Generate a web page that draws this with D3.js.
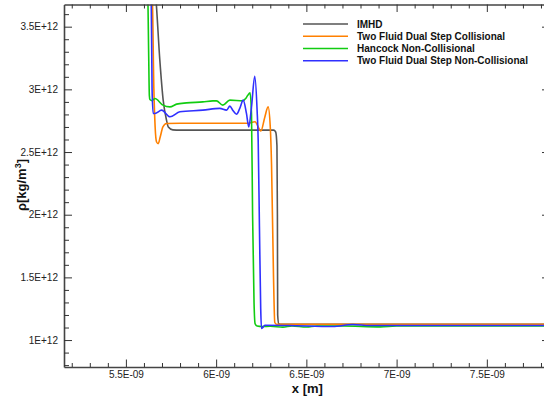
<!DOCTYPE html>
<html>
<head>
<meta charset="utf-8">
<script src="https://cdn.jsdelivr.net/npm/d3@7"></script>
<style>
html,body{margin:0;padding:0;background:#fff;}
svg{display:block;font-family:"Liberation Sans",Arial,sans-serif;}
</style>
</head>
<body>
<svg id="chart" width="544" height="402"></svg>
<script>
// x in units of 1E-09 m, y in units of 1E+12 kg/m^3
const imhdX = [5.60, 5.665, 5.688, 5.7065, 5.725, 5.735, 5.76, 5.80, 6.00, 6.20, 6.318, 6.330, 6.337, 6.3395, 6.341, 6.347, 6.36, 6.60, 7.00, 7.85];
const imhdY = [4.30, 3.75, 3.233, 2.914, 2.754, 2.70, 2.677, 2.675, 2.675, 2.675, 2.675, 2.66, 2.55, 2.0, 1.20, 1.13, 1.125, 1.125, 1.125, 1.125];

const orangeX = [5.60, 5.646, 5.655, 5.662, 5.670, 5.679, 5.690, 5.705, 5.725, 5.80, 6.00, 6.177, 6.215, 6.248, 6.270, 6.288, 6.300, 6.307, 6.318, 6.325, 6.335, 6.60, 7.00, 7.85];
const orangeY = [4.30, 3.75, 3.00, 2.70, 2.58, 2.567, 2.62, 2.70, 2.728, 2.73, 2.73, 2.73, 2.742, 2.668, 2.78, 2.860, 2.70, 2.40, 1.50, 1.14, 1.126, 1.126, 1.126, 1.126];

const greenX = [5.55, 5.621, 5.626, 5.630, 5.633, 5.645, 5.661, 5.705, 5.744, 5.781, 5.836, 5.926, 5.982, 6.002, 6.037, 6.076, 6.148, 6.165, 6.176, 6.188, 6.196, 6.202, 6.210, 6.216, 6.227, 6.253, 6.30, 6.37, 6.42, 6.50, 6.56, 6.70, 6.91, 7.00, 7.85];
const greenY = [4.30, 3.75, 3.30, 2.95, 2.919, 2.91, 2.927, 2.874, 2.860, 2.882, 2.892, 2.900, 2.908, 2.908, 2.874, 2.914, 2.908, 2.93, 2.954, 2.972, 2.80, 2.00, 1.30, 1.13, 1.112, 1.108, 1.110, 1.103, 1.112, 1.104, 1.112, 1.112, 1.105, 1.112, 1.112];

const blueX = [5.55, 5.640, 5.645, 5.651, 5.661, 5.698, 5.744, 5.799, 5.926, 6.020, 6.058, 6.076, 6.092, 6.113, 6.131, 6.150, 6.168, 6.181, 6.196, 6.214, 6.227, 6.233, 6.240, 6.247, 6.251, 6.258, 6.270, 6.40, 6.646, 6.757, 6.85, 7.85];
const blueY = [4.30, 3.75, 3.00, 2.808, 2.808, 2.834, 2.781, 2.821, 2.834, 2.848, 2.834, 2.866, 2.834, 2.802, 2.848, 2.914, 2.808, 2.701, 2.860, 3.105, 2.834, 2.595, 1.90, 1.25, 1.093, 1.10, 1.118, 1.116, 1.108, 1.124, 1.116, 1.116];

const seriesNames = ["IMHD", "Two Fluid Dual Step Collisional", "Hancock Non-Collisional", "Two Fluid Dual Step Non-Collisional"];
const seriesColors = ["#555555", "#ff8000", "#11cc11", "#3030ff"];
const xMajorTicks = [5.5, 6.0, 6.5, 7.0, 7.5];
const xTickLabels = ["5.5E-09", "6E-09", "6.5E-09", "7E-09", "7.5E-09"];
const yMajorTicks = [1.0, 1.5, 2.0, 2.5, 3.0, 3.5];
const yTickLabels = ["1E+12", "1.5E+12", "2E+12", "2.5E+12", "3E+12", "3.5E+12"];

const svg = d3.select("#chart");
const L = 64, R = 550, T = 4.5, B = 367;
const x = d3.scaleLinear().domain([5.157, 7.85]).range([L, R]);
const y = d3.scaleLinear().domain([0.785, 3.677]).range([B, T]);

svg.append("defs").append("clipPath").attr("id", "clip")
  .append("rect").attr("x", L).attr("y", T).attr("width", R - L).attr("height", B - T);

const series = [
  {xs: imhdX, ys: imhdY},
  {xs: orangeX, ys: orangeY},
  {xs: greenX, ys: greenY},
  {xs: blueX, ys: blueY}
];
const line = d3.line().x(d => x(d[0])).y(d => y(d[1])).curve(d3.curveMonotoneX);
const g = svg.append("g").attr("clip-path", "url(#clip)");
series.forEach((s, i) => {
  g.append("path")
    .attr("d", line(s.xs.map((v, j) => [v, s.ys[j]])))
    .attr("fill", "none")
    .attr("stroke", seriesColors[i])
    .attr("stroke-width", 1.6)
    .attr("stroke-linejoin", "round");
});

// Axes
const axisColor = "#444";
const xMinor = d3.range(52, 79).map(v => v / 10).filter(v => !xMajorTicks.some(m => Math.abs(m - v) < 1e-6));
const yMinor = d3.range(8, 37).map(v => v / 10).filter(v => !yMajorTicks.some(m => Math.abs(m - v) < 1e-6));

const fmtX = d => xTickLabels[xMajorTicks.indexOf(d)];
const fmtY = d => yTickLabels[yMajorTicks.indexOf(d)];

function styleAxis(sel) {
  sel.select(".domain").attr("stroke", axisColor).attr("stroke-width", 1.6);
  sel.selectAll(".tick line").attr("stroke", "#333").attr("stroke-width", 1);
  sel.selectAll(".tick text").attr("fill", "#222").attr("font-size", "10px")
     .attr("font-family", "Liberation Sans, Arial, sans-serif");
}

// bottom
const xb = svg.append("g").attr("transform", `translate(0,${B})`)
  .call(d3.axisBottom(x).tickValues(xMajorTicks).tickFormat(fmtX).tickSizeInner(-7.5).tickSizeOuter(0).tickPadding(4));
styleAxis(xb);
svg.append("g").attr("transform", `translate(0,${B})`)
  .call(d3.axisBottom(x).tickValues(xMinor).tickFormat("").tickSizeInner(-4).tickSizeOuter(0))
  .call(s => { s.select(".domain").remove(); s.selectAll(".tick line").attr("stroke", "#333"); });
// top
const xt = svg.append("g").attr("transform", `translate(0,${T})`)
  .call(d3.axisTop(x).tickValues(xMajorTicks).tickFormat("").tickSizeInner(-7.5).tickSizeOuter(0));
styleAxis(xt);
svg.append("g").attr("transform", `translate(0,${T})`)
  .call(d3.axisTop(x).tickValues(xMinor).tickFormat("").tickSizeInner(-4).tickSizeOuter(0))
  .call(s => { s.select(".domain").remove(); s.selectAll(".tick line").attr("stroke", "#333"); });
// left
const yl = svg.append("g").attr("transform", `translate(${L},0)`)
  .call(d3.axisLeft(y).tickValues(yMajorTicks).tickFormat(fmtY).tickSizeInner(-8).tickSizeOuter(0).tickPadding(6));
styleAxis(yl);
svg.append("g").attr("transform", `translate(${L},0)`)
  .call(d3.axisLeft(y).tickValues(yMinor).tickFormat("").tickSizeInner(-5).tickSizeOuter(0))
  .call(s => { s.select(".domain").remove(); s.selectAll(".tick line").attr("stroke", "#333"); });
// right
const yr = svg.append("g").attr("transform", `translate(${R},0)`)
  .call(d3.axisRight(y).tickValues(yMajorTicks).tickFormat("").tickSizeInner(-8).tickSizeOuter(0));
styleAxis(yr);
svg.append("g").attr("transform", `translate(${R},0)`)
  .call(d3.axisRight(y).tickValues(yMinor).tickFormat("").tickSizeInner(-5).tickSizeOuter(0))
  .call(s => { s.select(".domain").remove(); s.selectAll(".tick line").attr("stroke", "#333"); });

// Axis titles
svg.append("text").attr("x", (x(6.5) + 1)).attr("y", 393)
  .attr("text-anchor", "middle").attr("font-weight", "bold").attr("font-size", "13px").attr("fill", "#111")
  .text("x [m]");
const yt = svg.append("text").attr("transform", "translate(26,185) rotate(-90)")
  .attr("text-anchor", "middle").attr("font-weight", "bold").attr("font-size", "13px").attr("fill", "#111");
yt.append("tspan").text("ρ[kg/m");
yt.append("tspan").attr("font-size", "9px").attr("dy", "-5").text("3");
yt.append("tspan").attr("dy", "5").text("]");

// Legend
const leg = svg.append("g");
seriesNames.forEach((name, i) => {
  const cy = 24 + i * 12.25;
  leg.append("line").attr("x1", 303).attr("x2", 348).attr("y1", cy).attr("y2", cy)
    .attr("stroke", seriesColors[i]).attr("stroke-width", 1.6);
  leg.append("text").attr("x", 357).attr("y", cy + 3.6)
    .attr("font-size", "10px").attr("font-weight", "bold").attr("fill", "#111").text(name);
});
</script>
</body>
</html>
